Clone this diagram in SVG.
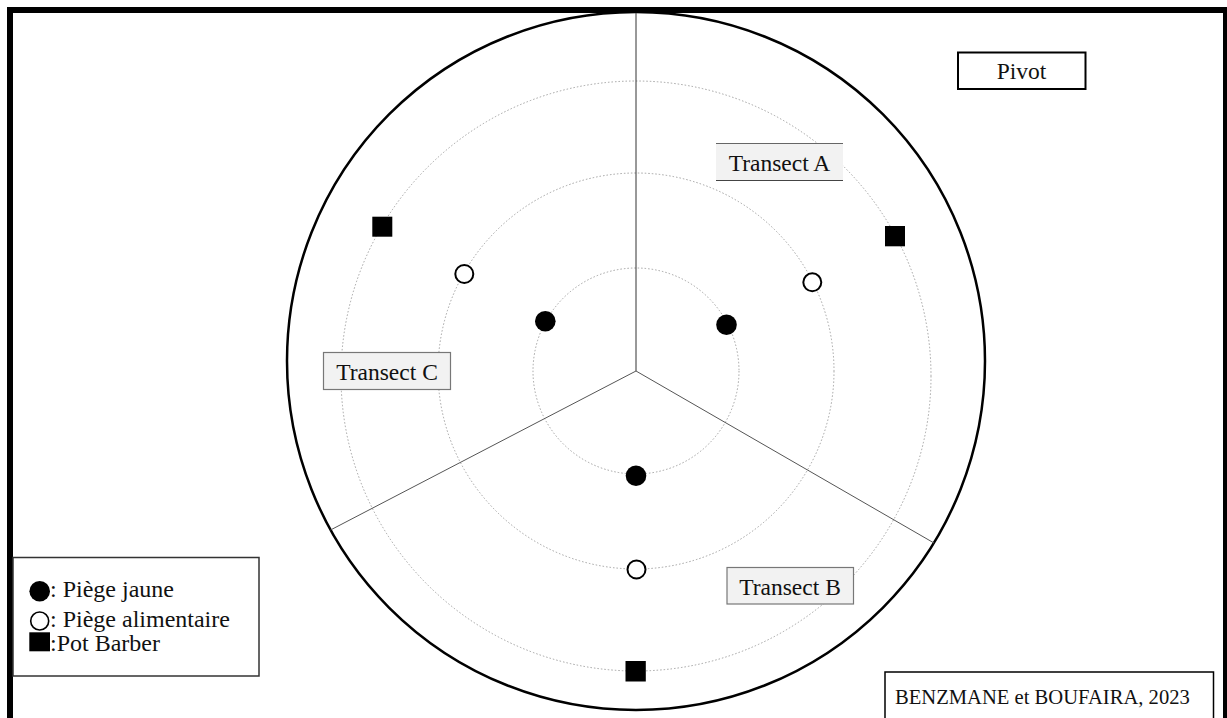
<svg xmlns="http://www.w3.org/2000/svg" width="1227" height="718" viewBox="0 0 1227 718">
<style>
.t{font-family:"Liberation Serif","Times New Roman",serif;font-size:23.5px;fill:#111}
.l{font-family:"Liberation Serif","Times New Roman",serif;font-size:24px;fill:#111}
.c{font-family:"Liberation Serif","Times New Roman",serif;font-size:20.6px;fill:#111}
.dot{fill:none;stroke:#999;stroke-width:0.9;stroke-dasharray:1.5 2}
.lab{fill:#f2f2f2;stroke:#777;stroke-width:1.2}
.fc{fill:#000}
.hc{fill:#fff;stroke:#000;stroke-width:2}
.sq{fill:#000}
</style>
<rect width="1227" height="718" fill="#fff"/>
<rect x="10" y="10" width="1216" height="730" fill="none" stroke="#000" stroke-width="6"/>
<g id="plot">
<circle cx="636" cy="361" r="349" fill="none" stroke="#000" stroke-width="2.5"/>
<circle class="dot" cx="636" cy="371" r="103"/>
<circle class="dot" cx="636" cy="371" r="198"/>
<circle class="dot" cx="636" cy="376" r="295"/>
</g>
<g id="connectors">
<line x1="636" y1="371" x2="636" y2="13" stroke="#333" stroke-width="1"/>
<line x1="636" y1="371" x2="330.5" y2="530" stroke="#555" stroke-width="1"/>
<line x1="636" y1="371" x2="934" y2="543" stroke="#555" stroke-width="1"/>
</g>
<g id="pivot">
<rect x="958" y="52.5" width="127.5" height="36.5" fill="#fff" stroke="#000" stroke-width="2"/>
<text class="t" x="1021.5" y="79" text-anchor="middle">Pivot</text>
</g>
<g id="transect-a">
<rect x="716" y="143.5" width="127" height="37" fill="#f2f2f2"/>
<line x1="716" y1="143.5" x2="843" y2="143.5" stroke="#666" stroke-width="1.2"/>
<line x1="716" y1="180.5" x2="843" y2="180.5" stroke="#444" stroke-width="1.2"/>
<text class="t" x="779.5" y="171" text-anchor="middle">Transect A</text>
</g>
<g id="transect-c">
<rect class="lab" x="323.5" y="352.5" width="127" height="37"/>
<text class="t" x="387" y="380" text-anchor="middle">Transect C</text>
</g>
<g id="transect-b">
<rect class="lab" x="727" y="567.5" width="126.5" height="36.5"/>
<text class="t" x="790" y="595" text-anchor="middle">Transect B</text>
</g>
<g id="traps">
<circle class="fc" cx="545.3" cy="321.3" r="10.3"/>
<circle class="fc" cx="726.5" cy="324.7" r="10.3"/>
<circle class="fc" cx="636" cy="475.7" r="10.3"/>
<circle class="hc" cx="464.3" cy="274" r="9"/>
<circle class="hc" cx="812.3" cy="282.3" r="9"/>
<circle class="hc" cx="636.5" cy="569.5" r="9"/>
<rect class="sq" x="372.3" y="216.7" width="20" height="20"/>
<rect class="sq" x="885" y="226" width="20" height="20.3"/>
<rect class="sq" x="625.5" y="661" width="20.3" height="20.5"/>
</g>
<g id="legend">
<rect x="13" y="557.5" width="246" height="118.5" fill="#fff" stroke="#333" stroke-width="1.5"/>
<circle cx="39.7" cy="591.3" r="10.3" fill="#000"/>
<text class="l" x="50" y="597">: Piège jaune</text>
<circle cx="39.7" cy="621" r="9" fill="#fff" stroke="#000" stroke-width="1.6"/>
<text class="l" x="50" y="626.5">: Piège alimentaire</text>
<rect x="29.3" y="632.3" width="20.7" height="19" fill="#000"/>
<text class="l" x="50" y="650.5">:Pot Barber</text>
</g>
<g id="citation">
<rect x="885" y="672" width="328.5" height="50" fill="#fff" stroke="#000" stroke-width="1.5"/>
<text class="c" x="895" y="703.5">BENZMANE et BOUFAIRA, 2023</text>
</g>
</svg>
